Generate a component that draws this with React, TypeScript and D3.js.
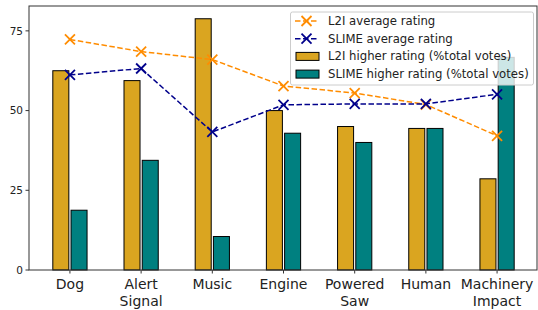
import React from "react";
import * as d3 from "d3";

const categories = ["Dog", "Alert\nSignal", "Music", "Engine", "Powered\nSaw", "Human", "Machinery\nImpact"];
const l2iHigher = [62.5, 59.4, 78.8, 50.0, 45.0, 44.4, 28.6];
const slimeHigher = [18.75, 34.4, 10.5, 42.9, 40.0, 44.4, 66.7];
const l2iAvg = [72.3, 68.5, 66.0, 57.7, 55.5, 51.9, 42.1];
const slimeAvg = [61.2, 63.2, 43.3, 51.8, 52.1, 52.1, 55.1];
const yTicks = [0, 25, 50, 75];

const W = 538, H = 310;
const left = 29, right = 538, top = 6, bottom = 270;

const ORANGE = "#FF8C00";
const BLUE = "#00008B";
const GOLD = "#DAA520";
const TEAL = "#008080";

function XMark({ x, y, color }: { x: number; y: number; color: string }) {
  const s = 5;
  return (
    <g stroke={color} strokeWidth={1.8}>
      <line x1={x - s} y1={y - s} x2={x + s} y2={y + s} />
      <line x1={x - s} y1={y + s} x2={x + s} y2={y - s} />
    </g>
  );
}

export default function App() {
  const x = d3.scaleLinear().domain([-0.575, categories.length - 1 + 0.575]).range([left, right]);
  const y = d3.scaleLinear().domain([0, 82.8]).range([bottom, top]);
  const step = x(1) - x(0);
  const bw = step * 0.225;
  const off = step * 0.128;
  const lineGen = d3.line<number>().x((_, i) => x(i)).y((d) => y(d));
  const font = "DejaVu Sans, sans-serif";

  const legendItems = [
    { label: "L2I average rating", type: "line", color: ORANGE },
    { label: "SLIME average rating", type: "line", color: BLUE },
    { label: "L2I higher rating (%total votes)", type: "bar", color: GOLD },
    { label: "SLIME higher rating (%total votes)", type: "bar", color: TEAL },
  ];

  return (
    <svg width={W} height={H} style={{ position: "absolute", left: 0, top: 0 }} fontFamily={font}>
      <rect width={W} height={H} fill="white" />
      {categories.map((_, i) => (
        <g key={i}>
          <rect x={x(i) - off - bw / 2} y={y(l2iHigher[i])} width={bw} height={y(0) - y(l2iHigher[i])} fill={GOLD} stroke="#000" strokeWidth={1} />
          <rect x={x(i) + off - bw / 2} y={y(slimeHigher[i])} width={bw} height={y(0) - y(slimeHigher[i])} fill={TEAL} stroke="#000" strokeWidth={1} />
        </g>
      ))}
      <path d={lineGen(l2iAvg) || ""} fill="none" stroke={ORANGE} strokeWidth={1.5} strokeDasharray="5.5,2.5" />
      {l2iAvg.map((v, i) => <XMark key={i} x={x(i)} y={y(v)} color={ORANGE} />)}
      <path d={lineGen(slimeAvg) || ""} fill="none" stroke={BLUE} strokeWidth={1.5} strokeDasharray="5.5,2.5" />
      {slimeAvg.map((v, i) => <XMark key={i} x={x(i)} y={y(v)} color={BLUE} />)}

      {/* frame */}
      <rect x={left} y={top} width={right - left - 1} height={bottom - top} fill="none" stroke="#333" strokeWidth={1} />

      {/* y axis */}
      {yTicks.map((t) => (
        <g key={t}>
          <line x1={left - 3.5} x2={left} y1={y(t)} y2={y(t)} stroke="#333" />
          <text x={left - 6} y={y(t)} dy="0.35em" textAnchor="end" fontSize={10.5} fill="#222">{t}</text>
        </g>
      ))}
      {/* x axis */}
      {categories.map((c, i) => (
        <g key={i}>
          <line x1={x(i)} x2={x(i)} y1={bottom} y2={bottom + 3.5} stroke="#333" />
          {c.split("\n").map((ln, j) => (
            <text key={j} x={x(i)} y={bottom + 19 + j * 16.5} textAnchor="middle" fontSize={14} fill="#222">{ln}</text>
          ))}
        </g>
      ))}

      {/* legend */}
      <rect x={290.5} y={12} width={243} height={73} rx={2} fill="white" fillOpacity={0.8} stroke="#ccc" strokeWidth={1} />
      {legendItems.map((it, k) => {
        const cy = 21 + k * 17.7;
        return (
          <g key={k}>
            {it.type === "line" ? (
              <g>
                <line x1={295} x2={318} y1={cy} y2={cy} stroke={it.color} strokeWidth={1.5} strokeDasharray="5.5,2.5" />
                <XMark x={306.5} y={cy} color={it.color} />
              </g>
            ) : (
              <rect x={296} y={cy - 4} width={23} height={8} fill={it.color} stroke="#000" strokeWidth={1} />
            )}
            <text x={328} y={cy} dy="0.35em" fontSize={11.7} fill="#222">{it.label}</text>
          </g>
        );
      })}
    </svg>
  );
}
